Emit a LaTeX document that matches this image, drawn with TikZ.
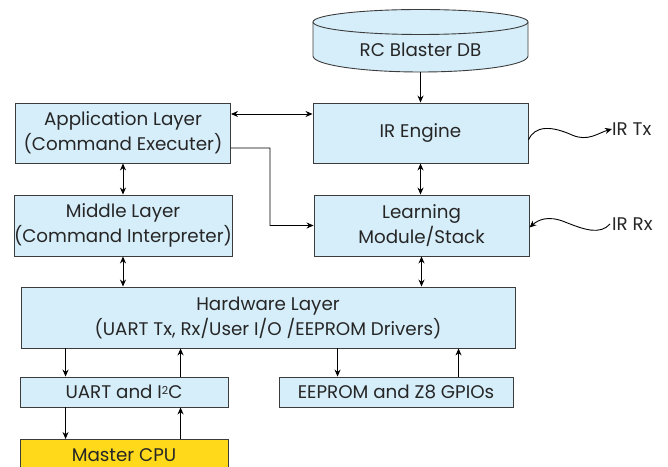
\documentclass[tikz,border=0pt]{standalone}
\usepackage{fontspec}
\setmainfont{Poppins}
\usetikzlibrary{arrows.meta,calc}
\definecolor{boxblue}{RGB}{214,238,250}
\definecolor{cpuyellow}{RGB}{255,217,26}
\definecolor{edge}{RGB}{60,60,60}
\tikzset{
  box/.style={draw=edge, fill=boxblue, line width=0.9bp, align=center, inner sep=0pt, font=\fontsize{18.3bp}{25bp}\selectfont, text=black!85},
  lbl/.style={font=\fontsize{18.3bp}{25bp}\selectfont, text=black!85, inner sep=0pt},
  arr/.style={draw=black, line width=0.9bp, -{Stealth[length=7bp,width=6bp]}},
  darr/.style={draw=black, line width=0.9bp, {Stealth[length=7bp,width=6bp]}-{Stealth[length=7bp,width=6bp]}},
  ln/.style={draw=edge, line width=0.9bp}
}
\begin{document}
\begin{tikzpicture}[x=1bp,y=-1bp]
\useasboundingbox (0,0) rectangle (668,467);
% database cylinder
\path[fill=boxblue] (313,22) -- (313,56) arc[start angle=180,end angle=0,x radius=107.5,y radius=16] -- (528,22) arc[start angle=0,end angle=-180,x radius=107.5,y radius=12.5] -- cycle;
\draw[ln] (313,22) -- (313,56) arc[start angle=180,end angle=0,x radius=107.5,y radius=16] -- (528,22);
\draw[ln, fill=boxblue] (420.5,22) ellipse[x radius=107.5, y radius=12.5];
\node[lbl] (db) at (420.5,50) {RC Blaster DB};
\coordinate (dbb) at (420.5,72);

\node[box, minimum width=215bp, minimum height=60bp] (app) at (123,133) {Application Layer\\(Command Executer)};
\node[box, minimum width=214bp, minimum height=61bp] (mid) at (123,225.5) {Middle Layer\\(Command Interpreter)};
\node[box, minimum width=215bp, minimum height=60bp] (ir) at (420.5,133) {IR Engine};
\node[box, minimum width=215bp, minimum height=61bp] (learn) at (421.5,225.5) {Learning\\Module/Stack};
\node[box, minimum width=494bp, minimum height=61bp] (hw) at (268,317.5) {Hardware Layer\\(UART Tx, Rx/User I/O /EEPROM Drivers)};
\node[box, minimum width=208bp, minimum height=30bp] (uart) at (124,392) {UART and I\raisebox{0.45ex}{\fontsize{11bp}{11bp}\selectfont 2}C};
\node[box, minimum width=234bp, minimum height=30bp] (eep) at (396,392) {EEPROM and Z8 GPIOs};
\node[box, fill=cpuyellow, minimum width=208bp, minimum height=34bp, anchor=north] (cpu) at (124,439) {};
\node[lbl] (cputxt) at (124,455) {Master CPU};

\node[lbl, anchor=west] (tx) at (612,129) {IR Tx};
\node[lbl, anchor=west] (rx) at (612,224) {IR Rx};

% connectors
\draw[arr] (dbb) -- (ir.north);
\draw[darr] ([yshift=19bp]app.east) -- ([yshift=19bp]app.east -| ir.west);
\draw[arr] ([yshift=-15bp]app.east) -- (270,148) |- (learn.west);
\draw[darr] (app.south) -- (mid.north);
\draw[darr] (mid.south) -- (mid.south |- hw.north);
\draw[darr] (ir.south) -- (ir.south |- learn.north);
\draw[darr] (learn.south) -- (learn.south |- hw.north);
\path (uart.north west) ++(46,0) coordinate (u1);
\path (uart.north west) ++(161,0) coordinate (u2);
\draw[arr] (u1 |- hw.south) -- (u1);
\draw[arr] (u2) -- (u2 |- hw.south);
\draw[arr] (u1 |- uart.south) -- (u1 |- cpu.north);
\draw[arr] (u2 |- cpu.north) -- (u2 |- uart.south);
\path (eep.north west) ++(59,0) coordinate (e1);
\path (eep.north west) ++(180,0) coordinate (e2);
\draw[arr] (e1 |- hw.south) -- (e1);
\draw[arr] (e2) -- (e2 |- hw.south);
% wavy
\draw[arr] ([yshift=-7bp]ir.east) .. controls (535,125) and (552,126) .. (572,135) .. controls (588,142) and (598,133) .. (tx.west);
\draw[arr] ([xshift=-2bp]rx.west) .. controls (600,235) and (585,230) .. (565,222) .. controls (548,215) and (538,220) .. ([yshift=-2bp]learn.east);
\end{tikzpicture}
\end{document}
